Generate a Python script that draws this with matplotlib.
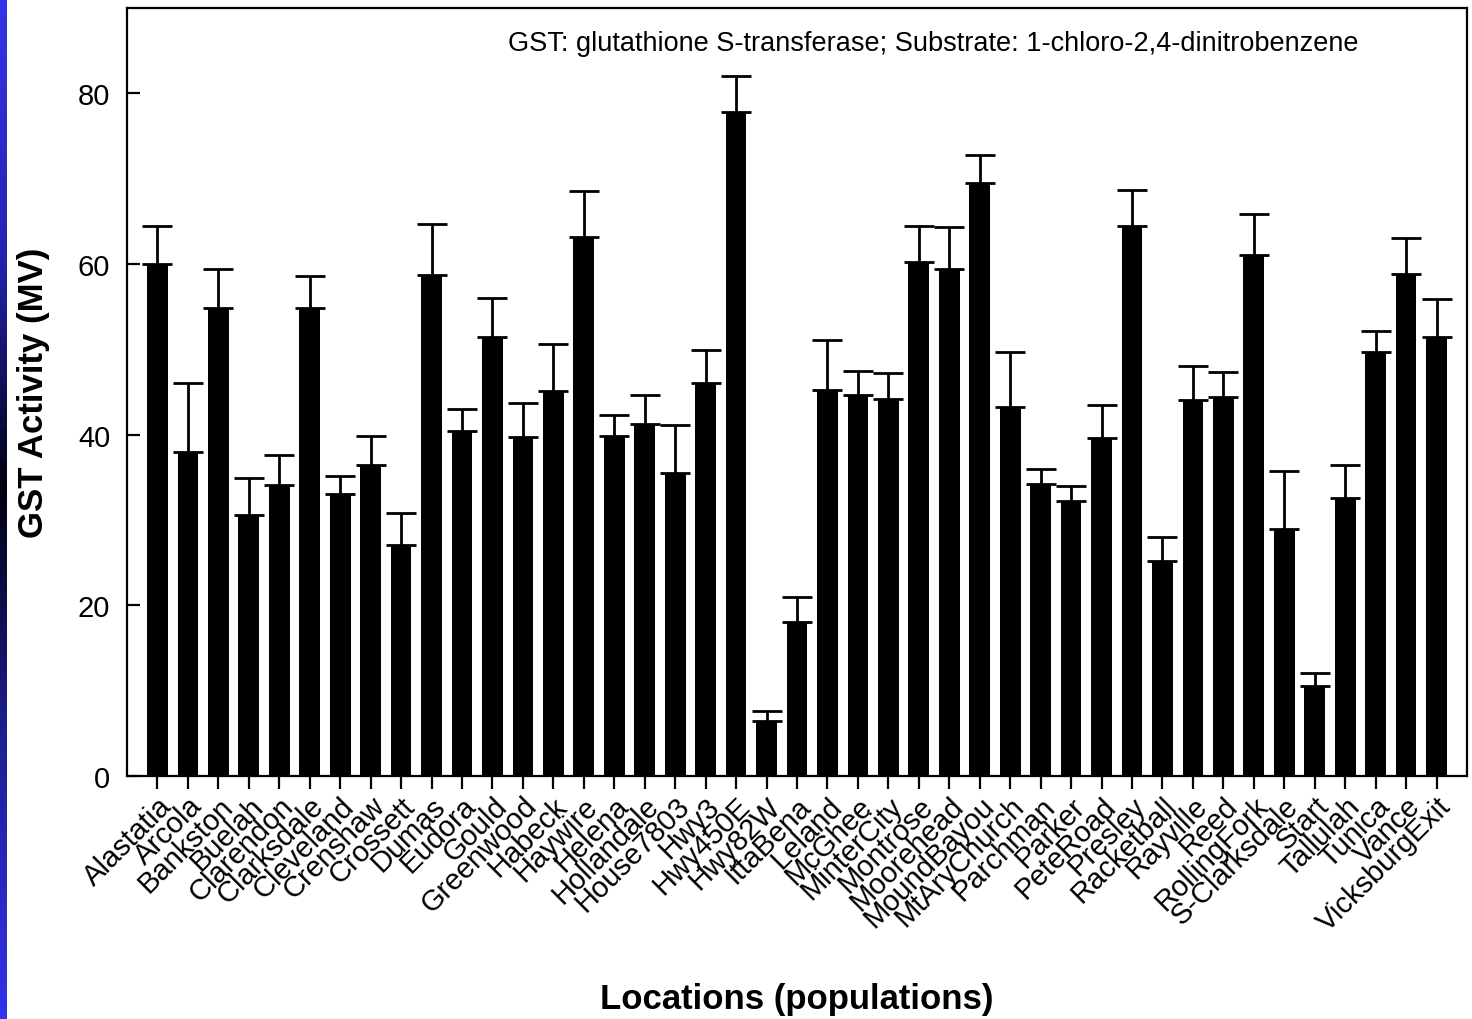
import numpy as np
import matplotlib
matplotlib.use("Agg")
import matplotlib.pyplot as plt
from matplotlib.colors import LinearSegmentedColormap

locations = ["Alastatia", "Arcola", "Bankston", "Buelah", "Clarendon", "Clarksdale",
             "Cleveland", "Crenshaw", "Crossett", "Dumas", "Eudora", "Gould",
             "Greenwood", "Habeck", "Haywire", "Helena", "Hollandale", "House7803",
             "Hwy3", "Hwy450E", "Hwy82W", "IttaBena", "Leland", "McGhee",
             "MinterCity", "Montrose", "Moorehead", "MoundBayou", "MtAryChurch",
             "Parchman", "Parker", "PeteRoad", "Presley", "Racketball", "Rayville",
             "Reed", "RollingFork", "S-Clarksdale", "Start", "Tallulah", "Tunica",
             "Vance", "VicksburgExit"]
gst_activity = [60.0, 38.0, 54.8, 30.6, 34.1, 54.8,
                33.1, 36.5, 27.1, 58.7, 40.4, 51.4,
                39.7, 45.1, 63.2, 39.8, 41.3, 35.5,
                46.0, 77.8, 6.4, 18.0, 45.2, 44.6,
                44.2, 60.2, 59.4, 69.5, 43.2,
                34.2, 32.2, 39.6, 64.5, 25.2, 44.1,
                44.4, 61.0, 29.0, 10.5, 32.6, 49.7,
                58.8, 51.5]
error_top = [64.5, 46.0, 59.4, 34.9, 37.6, 58.6,
             35.2, 39.9, 30.8, 64.7, 43.0, 56.0,
             43.7, 50.6, 68.5, 42.3, 44.6, 41.1,
             49.9, 82.0, 7.6, 21.0, 51.1, 47.5,
             47.2, 64.5, 64.3, 72.8, 49.7,
             36.0, 34.0, 43.5, 68.7, 28.0, 48.1,
             47.3, 65.9, 35.8, 12.1, 36.4, 52.2,
             63.0, 55.9]
y_ticks = [0, 20, 40, 60, 80]

plt.rcParams['font.family'] = ['Liberation Sans', 'DejaVu Sans']

fig = plt.figure(figsize=(14.72, 10.2), dpi=100)
fig.patch.set_facecolor('white')

# blue strip on left edge
strip = fig.add_axes([0, 0, 7 / 1472, 1])
cmap = LinearSegmentedColormap.from_list(
    "strip", [(0.0, "#3434e8"), (0.25, "#2424b0"), (0.48, "#000010"),
              (0.72, "#1e1e90"), (1.0, "#3232ea")])
grad = np.linspace(0, 1, 256).reshape(-1, 1)
strip.imshow(grad, aspect='auto', cmap=cmap, extent=[0, 1, 0, 1], origin='upper')
strip.set_axis_off()

ax = fig.add_axes([127 / 1472, 1 - 777 / 1020, (1467 - 127) / 1472, (777 - 9) / 1020])
x = np.arange(len(locations))
vals = np.array(gst_activity)
err = np.array(error_top) - vals
ax.bar(x, vals, width=0.68, color='black', zorder=2)
ax.errorbar(x, vals, yerr=[np.zeros_like(err), err], fmt='none', ecolor='black',
            elinewidth=2.0, capsize=10.5, capthick=2.0, zorder=1)

ax.set_xlim(-1.0, len(locations))
ax.set_ylim(0, 90)
ax.set_yticks(y_ticks)
ax.set_xticks(x)
ax.set_xticklabels(locations, rotation=45, ha='right', va='top',
                   rotation_mode='anchor', fontsize=21)
ax.tick_params(axis='y', direction='in', length=9, width=1.6, labelsize=21, pad=12)
ax.tick_params(axis='x', direction='out', length=9, width=1.6, pad=2)
for s in ax.spines.values():
    s.set_linewidth(1.6)

ax.set_ylabel("GST Activity (MV)", fontsize=25, fontweight='bold', va='center')
ax.yaxis.set_label_coords((34 - 127) / 1340, 0.5)
ax.set_xlabel("Locations (populations)", fontsize=25, fontweight='bold', va='center')
ax.xaxis.set_label_coords(0.5, (777 - 1000) / 768)
ax.text(0.284, 0.955, "GST: glutathione S-transferase; Substrate: 1-chloro-2,4-dinitrobenzene",
        transform=ax.transAxes, fontsize=19.5, ha='left', va='center')

fig.savefig("out.png", dpi=100, facecolor='white')
